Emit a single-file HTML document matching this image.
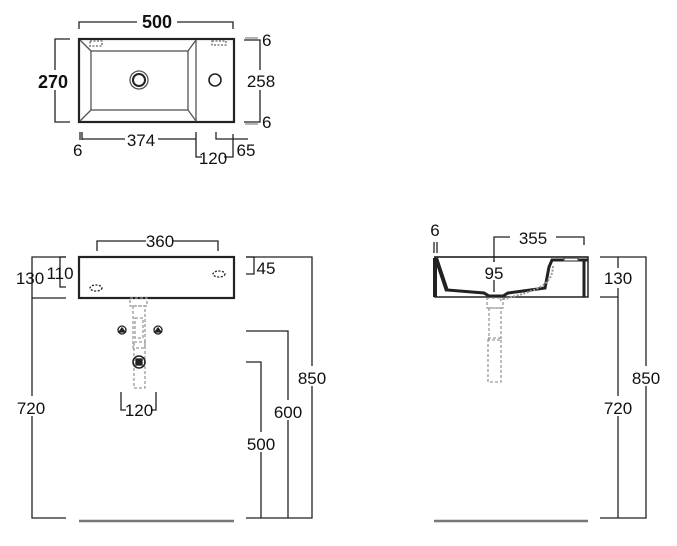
<!DOCTYPE html>
<html><head><meta charset="utf-8"><style>
html,body{margin:0;padding:0;background:#fff;}
svg text{font-family:"Liberation Sans",sans-serif;font-size:17px;fill:#111;}
</style></head><body>
<svg width="677" height="541" viewBox="0 0 677 541" xmlns="http://www.w3.org/2000/svg">
<g fill="none" stroke="#222" stroke-width="1.3">
<rect x="79" y="39" width="155" height="83" stroke-width="2.2"/>
<rect x="91" y="51" width="97" height="59" stroke="#555"/>
<line x1="80" y1="40" x2="91" y2="51" stroke="#555"/><line x1="196" y1="40" x2="188" y2="51" stroke="#555"/>
<line x1="80" y1="121" x2="91" y2="110" stroke="#555"/><line x1="196" y1="121" x2="188" y2="110" stroke="#555"/>
<line x1="196" y1="40" x2="196" y2="121" stroke="#555"/>
<circle cx="139" cy="80" r="9" stroke="#555"/><circle cx="139" cy="80" r="6" stroke-width="2"/>
<circle cx="215" cy="80" r="6" stroke-width="1.6"/>
<rect x="90" y="41" width="12" height="5" stroke-dasharray="2 1.5" stroke="#666"/>
<rect x="212" y="41" width="14" height="4" stroke-dasharray="2 1.5" stroke="#666"/>
<path d="M79 29V22H137M177 22H233V29"/>
<path d="M70 39H55V122H70"/>
<path d="M244 40H260V122H244"/>
<path d="M245 38H258M245 124H258" stroke="#888"/>
<path d="M80 132V140M82 132V140M82 139H125M158 139H196V132M196 134V157H202M224 157H233V134M216 132V139H248"/>
<rect x="79" y="257" width="155" height="41" stroke-width="2.2"/>
<ellipse cx="96" cy="288" rx="6" ry="3" stroke-dasharray="2 1.5"/>
<ellipse cx="219" cy="274" rx="6" ry="3" stroke-dasharray="2 1.5"/>
<path d="M97 251V241H146M173 241H218V251"/>
<path d="M66 257H32V298M32 298H66M32 298V518H66"/>
<path d="M66 257H60V287H66"/>
<path d="M246 257H254V274H246"/>
<path d="M246 257H312V518H246"/>
<path d="M246 331H288V518"/>
<path d="M246 362H261V518"/>
<path d="M121 392V410H126M152 410H156V392"/>
<g stroke="#999" stroke-dasharray="3 2">
<rect x="130" y="298" width="17" height="8"/><rect x="133" y="306" width="12" height="42"/>
<rect x="135" y="318" width="8" height="20"/><rect x="134" y="342" width="11" height="46"/>
</g>
<circle cx="122" cy="330" r="4"/><path d="M119 332L122 328L125 332Z" fill="#222"/>
<circle cx="158" cy="330" r="4"/><path d="M155 332L158 328L161 332Z" fill="#222"/>
<circle cx="139" cy="362" r="6" stroke-width="1.6"/><rect x="136" y="359" width="6" height="6" fill="#222"/>
<line x1="79" y1="521" x2="234" y2="521" stroke="#777" stroke-width="2.5"/>
<path d="M435 257V297H588V257Z" stroke-width="1.5"/>
<path d="M434 257H588" stroke-width="1.2"/>
<path d="M436 259L447 290L484 293L489 296H503L508 293L545 288L549 267L552 260H588" stroke-width="3"/>
<path d="M435 258V297M436 258L447 291" stroke-width="4"/>
<path d="M584 260V297" stroke-width="3"/>
<rect x="564" y="258" width="14" height="3" fill="#fff" stroke="#555"/>
<path d="M553 266C552 285 540 290 500 300" stroke="#999" stroke-dasharray="2 1.5" stroke-width="2"/>
<g stroke="#999" stroke-dasharray="3 2">
<rect x="487" y="298" width="16" height="10"/><rect x="489" y="308" width="12" height="32"/><rect x="488" y="338" width="13" height="44"/>
</g>
<path d="M434 242V253M437 242V253"/>
<path d="M494 270V244V237H510M556 237H584V245"/>
<path d="M494 260V292" stroke="#222"/>
<path d="M600 257H646V518H600M600 297H618V518M618 257V297"/>
<line x1="434" y1="521" x2="588" y2="521" stroke="#777" stroke-width="2.5"/>
</g>
<g>
<rect x="137" y="12" width="40" height="20" fill="#fff"/>
<text x="157" y="28" text-anchor="middle" font-weight="bold" style="font-size:18px">500</text>
<rect x="36" y="70" width="36" height="20" fill="#fff"/>
<text x="53" y="88" text-anchor="middle" font-weight="bold" style="font-size:18px">270</text>
<text x="262" y="46">6</text>
<rect x="246" y="70" width="32" height="20" fill="#fff"/>
<text x="261" y="87" text-anchor="middle">258</text>
<text x="262" y="128">6</text>
<text x="73" y="156">6</text>
<text x="141" y="146" text-anchor="middle">374</text>
<text x="213" y="164" text-anchor="middle">120</text>
<text x="246" y="156" text-anchor="middle">65</text>
<text x="160" y="247" text-anchor="middle">360</text>
<text x="30" y="284" text-anchor="middle">130</text>
<text x="60" y="279" text-anchor="middle">110</text>
<text x="266" y="274" text-anchor="middle">45</text>
<rect x="298" y="366" width="28" height="20" fill="#fff"/>
<text x="312" y="384" text-anchor="middle">850</text>
<rect x="274" y="400" width="28" height="20" fill="#fff"/>
<text x="288" y="418" text-anchor="middle">600</text>
<rect x="247" y="432" width="28" height="20" fill="#fff"/>
<text x="261" y="450" text-anchor="middle">500</text>
<rect x="17" y="396" width="30" height="20" fill="#fff"/>
<text x="31" y="414" text-anchor="middle">720</text>
<text x="139" y="416" text-anchor="middle">120</text>
<text x="435" y="236" text-anchor="middle">6</text>
<text x="533" y="244" text-anchor="middle">355</text>
<rect x="483" y="262" width="24" height="18" fill="#fff"/>
<text x="494" y="279" text-anchor="middle">95</text>
<rect x="604" y="268" width="28" height="20" fill="#fff"/>
<text x="618" y="284" text-anchor="middle">130</text>
<rect x="631" y="366" width="30" height="20" fill="#fff"/>
<text x="646" y="384" text-anchor="middle">850</text>
<rect x="603" y="396" width="30" height="20" fill="#fff"/>
<text x="618" y="414" text-anchor="middle">720</text>
</g>
</svg>
</body></html>
